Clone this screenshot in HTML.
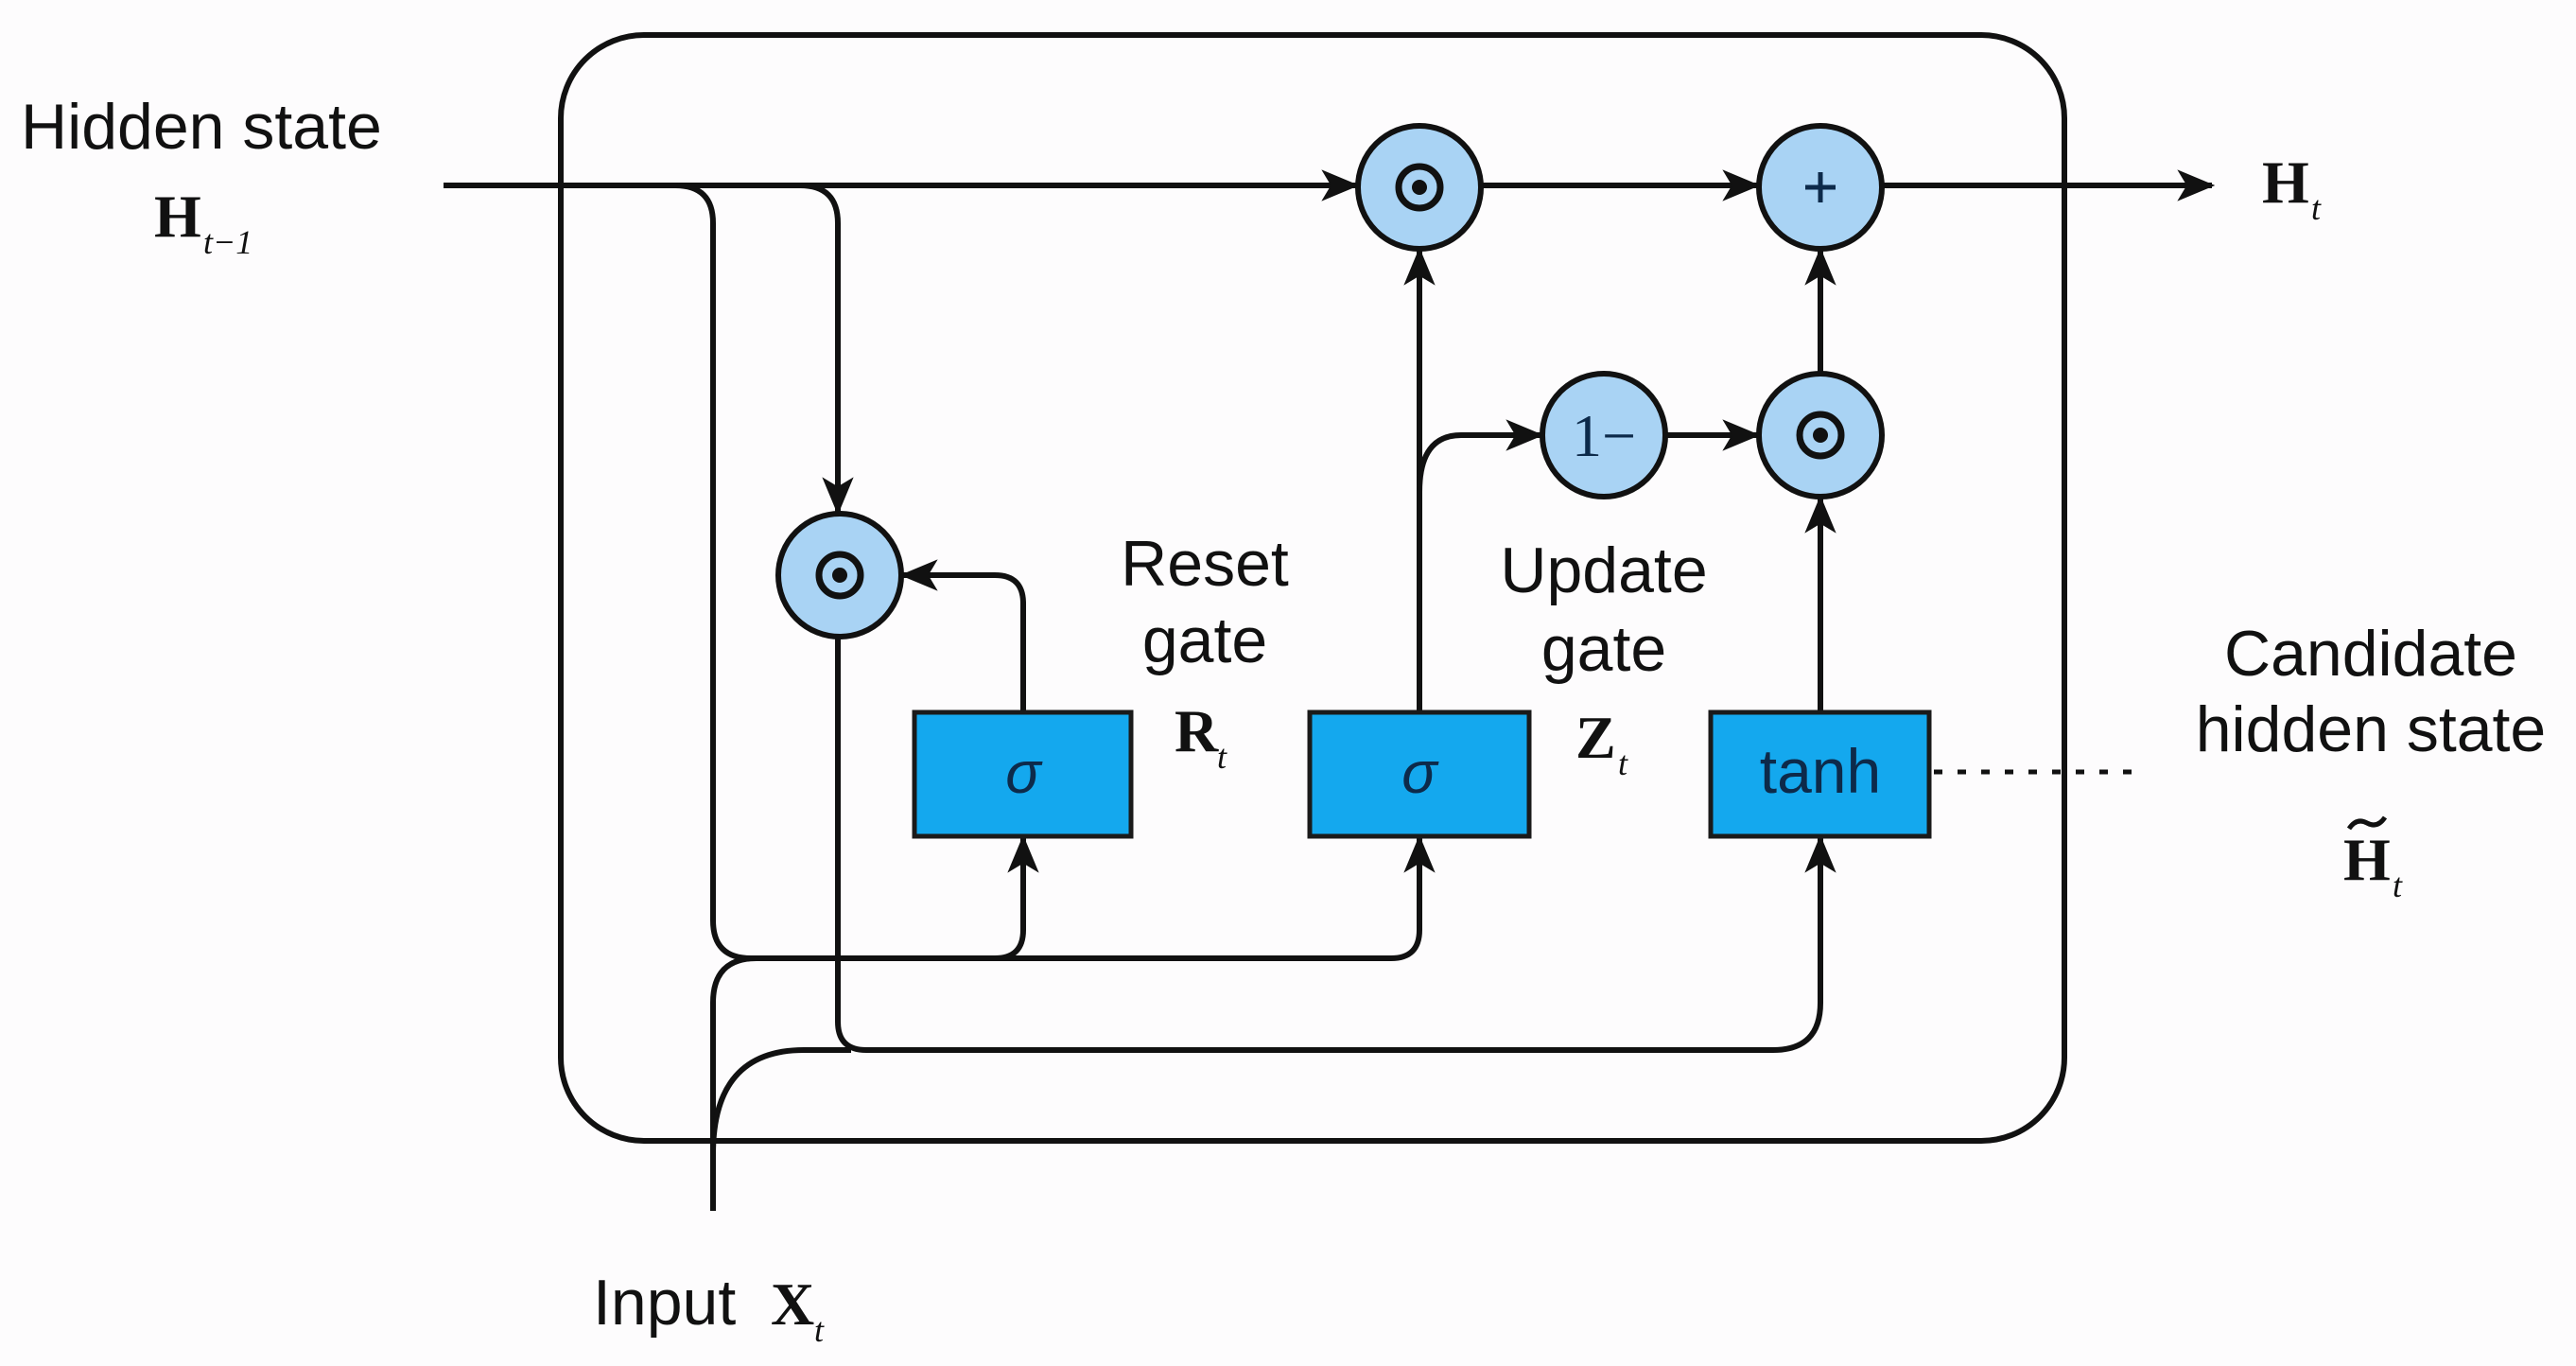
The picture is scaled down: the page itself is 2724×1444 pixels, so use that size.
<!DOCTYPE html>
<html><head><meta charset="utf-8"><style>
html,body{margin:0;padding:0;background:#fdfcfd;}
svg{display:block;}
.t{font-family:"Liberation Sans",sans-serif;font-size:68px;fill:#111;}
.m{font-family:"Liberation Serif",serif;font-weight:bold;font-size:64px;fill:#111;}
.s{font-family:"Liberation Serif",serif;font-style:italic;font-size:36px;fill:#111;}
</style></head><body>
<svg width="2724" height="1444" viewBox="0 0 2724 1444" xmlns="http://www.w3.org/2000/svg">
<defs>
<marker id="ar" viewBox="0 0 12 12" refX="11" refY="6" markerWidth="40" markerHeight="40" orient="auto" markerUnits="userSpaceOnUse">
<path d="M0,1 L12,6 L0,11 L3,6 Z" fill="#111"/>
</marker>
</defs>
<rect x="0" y="0" width="2724" height="1444" fill="#fdfcfd"/>
<rect x="593" y="37" width="1590" height="1169" rx="88" ry="88" fill="none" stroke="#111" stroke-width="6"/>
<g fill="none" stroke="#111" stroke-width="6">
<path d="M469,196 L1434,196" marker-end="url(#ar)"/>
<path d="M1566,196 L1858,196" marker-end="url(#ar)"/>
<path d="M1990,196 L2339,196" marker-end="url(#ar)"/>
<path d="M714,196 Q754,196 754,236 L754,973 Q754,1013 794,1013 L1052,1013 Q1082,1013 1082,983 L1082,886" marker-end="url(#ar)"/>
<path d="M1052,1013 L1471,1013 Q1501,1013 1501,983 L1501,886" marker-end="url(#ar)"/>
<path d="M846,196 Q886,196 886,236 L886,541" marker-end="url(#ar)"/>
<path d="M1082,753 L1082,638 Q1082,608 1052,608 L955,608" marker-end="url(#ar)"/>
<path d="M886,673 L886,1080 Q886,1110 916,1110 L1875,1110 Q1925,1110 1925,1060 L1925,886" marker-end="url(#ar)"/>
<path d="M754,1280 L754,1060 Q754,1013 800,1013"/>
<path d="M754,1220 Q754,1110 850,1110 L900,1110"/>
<path d="M1501,753 L1501,265" marker-end="url(#ar)"/>
<path d="M1501,520 Q1501,460 1545,460 L1629,460" marker-end="url(#ar)"/>
<path d="M1762,460 L1858,460" marker-end="url(#ar)"/>
<path d="M1925,395 L1925,265" marker-end="url(#ar)"/>
<path d="M1925,753 L1925,527" marker-end="url(#ar)"/>
<path d="M2045,816 L2255,816" stroke-dasharray="9,16" stroke-width="5"/>
</g>
<g stroke="#111" stroke-width="6" fill="#a9d3f4">
<circle cx="888" cy="608" r="65"/>
<circle cx="1501" cy="198" r="65"/>
<circle cx="1925" cy="198" r="65"/>
<circle cx="1696" cy="460" r="65"/>
<circle cx="1925" cy="460" r="65"/>
</g>
<g stroke="#111" stroke-width="7" fill="none">
<circle cx="888" cy="608" r="22"/>
<circle cx="1501" cy="198" r="22"/>
<circle cx="1925" cy="460" r="22"/>
</g>
<g fill="#111">
<circle cx="888" cy="608" r="8"/>
<circle cx="1501" cy="198" r="8"/>
<circle cx="1925" cy="460" r="8"/>
</g>
<g stroke="#0d2a4a" stroke-width="5">
<line x1="1909" y1="198" x2="1941" y2="198"/>
<line x1="1925" y1="182" x2="1925" y2="214"/>
</g>
<text x="1696" y="482" text-anchor="middle" style="font-family:'Liberation Serif',serif;font-size:64px;fill:#0d2a4a">1−</text>
<g stroke="#1a1a1a" stroke-width="5" fill="#14a8ee">
<rect x="967" y="753" width="229" height="131"/>
<rect x="1385" y="753" width="232" height="131"/>
<rect x="1809" y="753" width="231" height="131"/>
</g>
<text x="1082" y="838" text-anchor="middle" style="font-family:'Liberation Sans',sans-serif;font-style:italic;font-size:62px;fill:#0d2a4a">σ</text>
<text x="1501" y="838" text-anchor="middle" style="font-family:'Liberation Sans',sans-serif;font-style:italic;font-size:62px;fill:#0d2a4a">σ</text>
<text x="1925" y="838" text-anchor="middle" style="font-family:'Liberation Sans',sans-serif;font-size:66px;fill:#0d2a4a">tanh</text>
<text class="t" x="22" y="157">Hidden state</text>
<text class="m" x="163" y="250">H</text><text class="s" x="215" y="268">t−1</text>
<text class="t" x="1274" y="619" text-anchor="middle">Reset</text>
<text class="t" x="1274" y="700" text-anchor="middle">gate</text>
<text class="m" x="1242" y="794">R</text><text class="s" x="1287" y="812">t</text>
<text class="t" x="1696" y="626" text-anchor="middle">Update</text>
<text class="t" x="1696" y="709" text-anchor="middle">gate</text>
<text class="m" x="1666" y="801">Z</text><text class="s" x="1711" y="819">t</text>
<text class="m" x="2392" y="214">H</text><text class="s" x="2444" y="232">t</text>
<text class="t" x="2507" y="714" text-anchor="middle">Candidate</text>
<text class="t" x="2507" y="794" text-anchor="middle">hidden state</text>
<text class="m" x="2478" y="930">H</text><text class="s" x="2530" y="948">t</text>
<path d="M2484,876 Q2492,864 2503,870 Q2514,876 2522,864" fill="none" stroke="#111" stroke-width="5"/>
<text class="t" x="627" y="1400">Input</text>
<text class="m" x="815" y="1400">X</text><text class="s" x="861" y="1418">t</text>
</svg>
</body></html>
